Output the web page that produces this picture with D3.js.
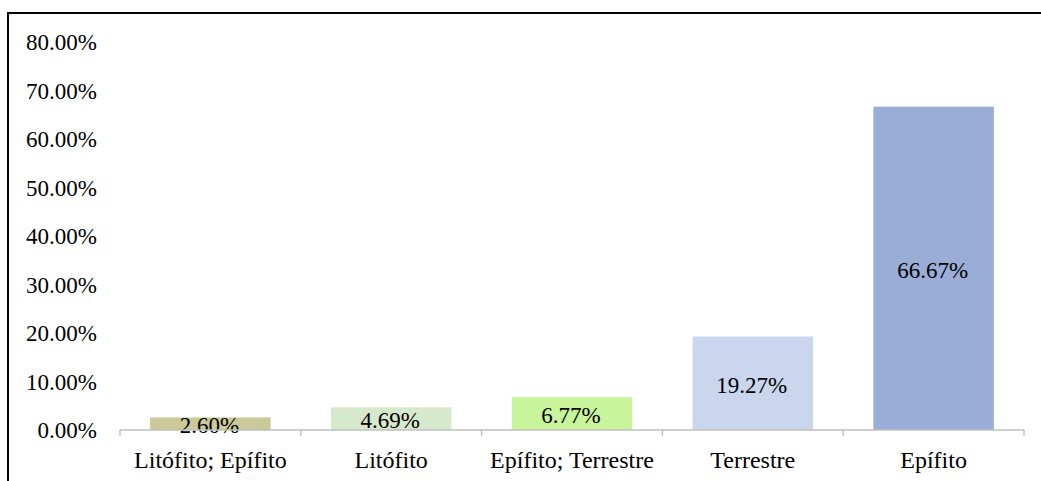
<!DOCTYPE html>
<html>
<head>
<meta charset="utf-8">
<script src="https://cdn.jsdelivr.net/npm/d3@7"></script>
<style>
  html, body { margin: 0; padding: 0; background: #fff; }
  svg { display: block; }
  svg text { font-family: 'Liberation Serif', 'Times New Roman', serif !important; fill: #000; }
</style>
</head>
<body>
<svg id="chart" width="1041" height="481"></svg>
<script>
const categories = ["Litófito; Epífito", "Litófito", "Epífito; Terrestre", "Terrestre", "Epífito"];
const values = [2.60, 4.69, 6.77, 19.27, 66.67];
const colors = ["#CCC999", "#D7E9CC", "#C8F49C", "#CAD6EE", "#99ADD6"];
const yTicks = [0, 10, 20, 30, 40, 50, 60, 70, 80];

const W = 1041, H = 481;
const margin = { left: 120, right: 17, top: 42, bottom: 51 };
const svg = d3.select("#chart");
const FONT = "'Liberation Serif', 'Times New Roman', serif";

// outer frame (top and left edges visible)
svg.append("line").attr("x1", 8).attr("x2", W).attr("y1", 13).attr("y2", 13)
  .attr("stroke", "#000").attr("stroke-width", 2);
svg.append("line").attr("x1", 8).attr("x2", 8).attr("y1", 12).attr("y2", H)
  .attr("stroke", "#000").attr("stroke-width", 2);

const x = d3.scaleBand().domain(categories)
  .range([margin.left, W - margin.right]).paddingInner(1/3).paddingOuter(1/6);
const y = d3.scaleLinear().domain([0, 80]).range([H - margin.bottom, margin.top]);

const fs = 23;
const fsCat = 24;

// bars
svg.append("g").selectAll("rect").data(values).join("rect")
  .attr("x", (d, i) => x(categories[i]))
  .attr("width", x.bandwidth())
  .attr("y", d => y(d))
  .attr("height", d => y(0) - y(d))
  .attr("fill", (d, i) => colors[i]);

// bar labels
svg.append("g").attr("font-family", FONT).selectAll("text").data(values).join("text")
  .attr("x", (d, i) => x(categories[i]) + x.bandwidth() / 2 - 1)
  .attr("y", d => (y(d) + y(0)) / 2 + fs * 0.42)
  .attr("text-anchor", "middle")
  .attr("font-family", FONT)
  .attr("font-size", fs)
  .text(d => d.toFixed(2) + "%");

// x axis
const xAxis = d3.axisBottom(x).tickSize(0).tickPadding(0);
const gx = svg.append("g").attr("transform", `translate(0,${y(0)})`);
gx.append("line").attr("x1", margin.left).attr("x2", W - margin.right)
  .attr("y1", 0).attr("y2", 0).attr("stroke", "#BFBFBF").attr("stroke-width", 1.5);
const boundaries = d3.range(categories.length + 1).map(i => margin.left + i * (W - margin.left - margin.right) / categories.length);
gx.selectAll("line.tk").data(boundaries).join("line").attr("class", "tk")
  .attr("x1", d => d).attr("x2", d => d).attr("y1", 0).attr("y2", 6)
  .attr("stroke", "#BFBFBF").attr("stroke-width", 1.5);
const gxl = gx.append("g").call(xAxis).attr("font-family", FONT).attr("font-size", fsCat);
gxl.select(".domain").remove();
gxl.selectAll("text").attr("dy", null).attr("y", 38).attr("fill", "#000");

// y axis labels
const yAxis = d3.axisLeft(y).tickValues(yTicks).tickSize(0).tickPadding(0)
  .tickFormat(d => d.toFixed(2) + "%");
const gy = svg.append("g").attr("transform", `translate(97,0)`).call(yAxis)
  .attr("font-family", FONT).attr("font-size", fs);
gy.select(".domain").remove();
gy.selectAll("text").attr("dy", "0.33em").attr("fill", "#000");
</script>
</body>
</html>
